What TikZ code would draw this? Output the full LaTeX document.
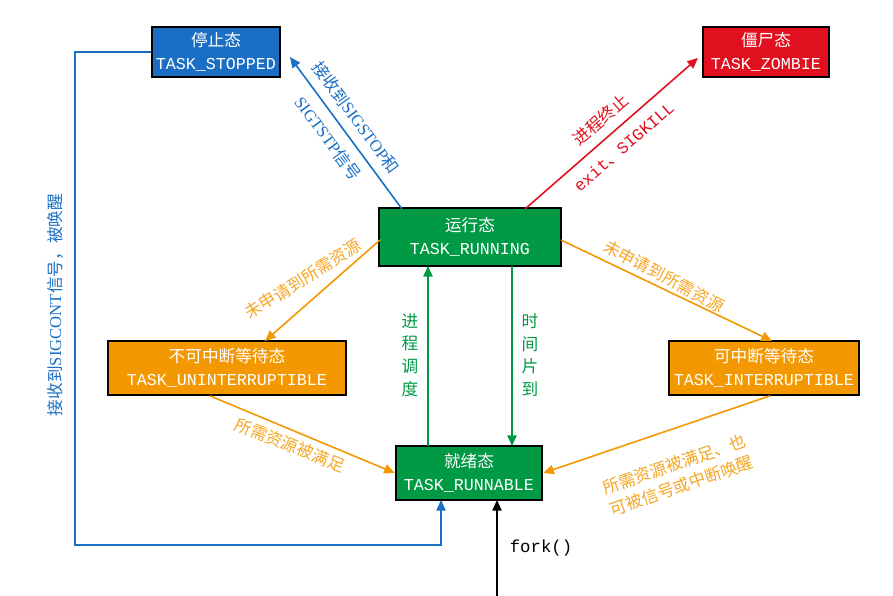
\documentclass[tikz,border=0pt]{standalone}
\usepackage{fontspec}
\setmainfont{Liberation Serif}
\setmonofont{Liberation Mono}
\newfontfamily\cjk{Noto Sans CJK SC}
\newfontfamily\lat{Liberation Serif}
\usetikzlibrary{arrows.meta}
\definecolor{cblue}{HTML}{1A6FC4}
\definecolor{cred}{HTML}{E0101E}
\definecolor{cgreen}{HTML}{009944}
\definecolor{corange}{HTML}{F39800}
\definecolor{clorange}{HTML}{F5A623}
\begin{document}
\begin{tikzpicture}[x=0.75pt,y=-0.75pt,
  st/.style={draw=black,line width=1.3pt,text=white,align=center,inner sep=0pt,font=\fontsize{12.5}{17}\selectfont},
  ar/.style={line width=1.2pt,-{Triangle[length=8pt,width=7pt]}},
  lb/.style={align=center,font=\cjk\fontsize{12.5}{17}\selectfont,inner sep=0pt}]
\useasboundingbox (0,0) rectangle (893,596);
\node[st,fill=cblue,minimum width=96pt,minimum height=37.5pt] (stop) at (216,52) {{\cjk 停止态}\\\ttfamily TASK\_STOPPED};
\node[st,fill=cred,minimum width=94pt,minimum height=38pt] (zomb) at (766,52) {{\cjk 僵尸态}\\\ttfamily TASK\_ZOMBIE};
\node[st,fill=cgreen,minimum width=136pt,minimum height=43pt] (run) at (470,237) {{\cjk 运行态}\\\ttfamily TASK\_RUNNING};
\node[st,fill=corange,minimum width=179pt,minimum height=40.5pt] (unint) at (227,368) {{\cjk 不可中断等待态}\\\ttfamily TASK\_UNINTERRUPTIBLE};
\node[st,fill=corange,minimum width=142pt,minimum height=40.5pt] (int) at (764,368) {{\cjk 可中断等待态}\\\ttfamily TASK\_INTERRUPTIBLE};
\node[st,fill=cgreen,minimum width=110pt,minimum height=40.5pt] (rdy) at (469,473) {{\cjk 就绪态}\\\ttfamily TASK\_RUNNABLE};
\coordinate (a1) at (402,209); \coordinate (a2) at (290,57);
\draw[ar,cblue] (a1) -- (a2);
\node[lb,text=cblue,rotate=-53.6] (l1) at (342,128) {接收到{\lat SIGSTOP}和\\[9pt]{\lat SIGTSTP}信号};
\coordinate (b1) at (525,209); \coordinate (b2) at (698,58);
\draw[ar,cred] (b1) -- (b2);
\node[lb,text=cred,rotate=41] (l2) at (612,133) {进程终止\\[9pt]{\ttfamily exit}、{\ttfamily SIGKILL}};
\draw[ar,corange] (380,240) -- (265,341);
\node[lb,text=clorange,rotate=32] (l3) at (303,279) {未申请到所需资源};
\draw[ar,corange] (561,240) -- (772,341);
\node[lb,text=clorange,rotate=-28] (l4) at (664,276) {未申请到所需资源};
\draw[ar,corange] (unint.south) ++(-17,0) -- (rdy.west);
\node[lb,text=clorange,rotate=-22] (l5) at (290,445) {所需资源被满足};
\draw[ar,corange] (int.south) ++(6,0) -- (rdy.east);
\node[lb,text=clorange,rotate=19] (l6) at (678,475) {所需资源被满足、也\\可被信号或中断唤醒};
\draw[ar,cgreen] (428,446) -- (428,266);
\node[lb,text=cgreen] (l7) at (410,355) {进\\程\\调\\度};
\draw[ar,cgreen] (512,266) -- (512,446);
\node[lb,text=cgreen] (l8) at (530,355) {时\\间\\片\\到};
\draw[ar,cblue] (stop.west) -- (75,52) -- (75,545) -- (441,545) -- (441,500);
\node[lb,text=cblue,rotate=90] (l9) at (55,305) {接收到{\lat SIGCONT}信号，被唤醒};
\coordinate (f) at (497,596);
\draw[ar,black] (f) -- (497,500);
\node[font=\ttfamily\fontsize{13}{16}\selectfont] (fk) at (541,548) {fork()};
\end{tikzpicture}
\end{document}
